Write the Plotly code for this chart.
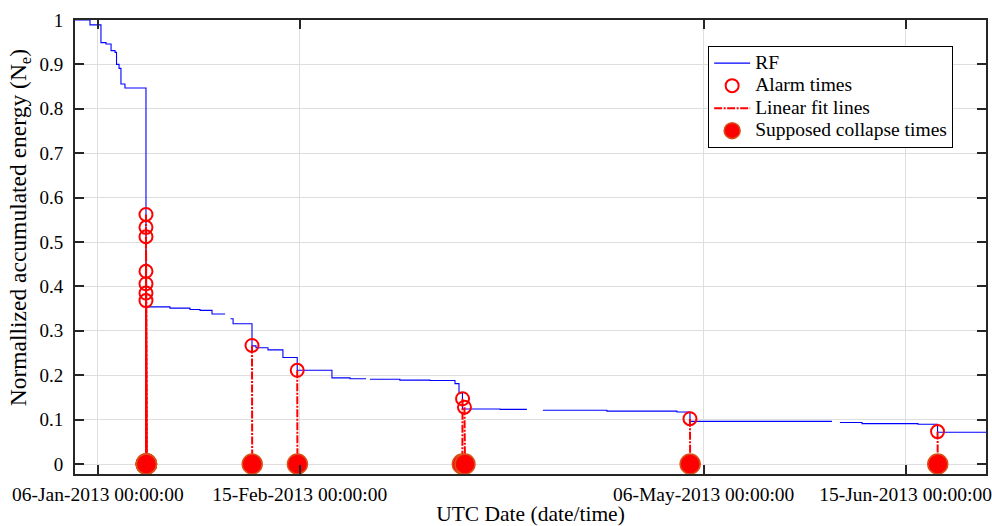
import plotly.graph_objects as go

# Normalized accumulated energy (RF), step series; None marks missing records
rf_time = [
    "2013-01-01 11:35", "2013-01-04 11:00", "2013-01-06 15:00", "2013-01-07 15:00",
    "2013-01-08 15:00", "2013-01-09 10:00", "2013-01-09 17:00", "2013-01-10 05:00",
    "2013-01-10 14:00", "2013-01-11 09:00", "2013-01-15 13:00", "2013-01-20 07:00",
    "2013-01-24 06:00", "2013-01-26 06:00", "2013-01-28 15:00", "2013-01-31 05:00",
    "2013-01-31 05:00", "2013-02-01 07:00", "2013-02-01 19:00", "2013-02-05 13:00",
    "2013-02-06 08:00", "2013-02-08 17:00", "2013-02-11 16:00", "2013-02-14 12:00",
    "2013-02-21 09:00", "2013-02-24 23:00", "2013-02-28 03:00", "2013-02-28 03:00",
    "2013-02-28 22:00", "2013-03-06 20:00", "2013-03-12 19:00", "2013-03-17 18:00",
    "2013-03-18 13:00", "2013-03-19 05:30", "2013-03-26 16:00", "2013-04-01 00:00",
    "2013-04-01 00:00", "2013-04-04 04:00", "2013-04-16 20:00", "2013-04-30 17:00",
    "2013-05-03 07:00", "2013-05-31 10:00", "2013-05-31 10:00", "2013-06-02 00:00",
    "2013-06-06 09:00", "2013-06-17 11:00", "2013-06-21 08:00", "2013-06-30 22:20",
]
rf_value = [
    1.000, 0.989, 0.949, 0.946,
    0.931, 0.927, 0.900, 0.891,
    0.856, 0.847, 0.354, 0.351,
    0.348, 0.346, 0.338, 0.338,
    None, 0.327, 0.316, 0.266,
    0.262, 0.257, 0.240, 0.211,
    0.194, 0.192, 0.192, None,
    0.191, 0.189, 0.188, 0.181,
    0.160, 0.124, 0.123, 0.123,
    None, 0.121, 0.119, 0.117,
    0.096, 0.096, None, 0.0935,
    0.091, 0.0896, 0.0716, 0.0716,
]

# Alarm times with the RF level at each alarm, and the matching collapse time
alarm_time = [
    "2013-01-15 13:00", "2013-01-15 13:00", "2013-01-15 13:00", "2013-01-15 13:00",
    "2013-01-15 13:00", "2013-01-15 13:00", "2013-01-15 13:00", "2013-02-05 13:00",
    "2013-02-14 12:00", "2013-03-19 06:00", "2013-03-19 15:00", "2013-05-03 07:00",
    "2013-06-21 08:00",
]
alarm_value = [
    0.562, 0.533, 0.512, 0.434, 0.406, 0.385, 0.368, 0.267,
    0.211, 0.147, 0.128, 0.102, 0.073,
]
collapse_time = [
    "2013-01-15 15:00", "2013-01-15 15:00", "2013-01-15 15:00", "2013-01-15 15:00",
    "2013-01-15 15:00", "2013-01-15 15:00", "2013-01-15 15:00", "2013-02-05 14:00",
    "2013-02-14 13:00", "2013-03-19 05:00", "2013-03-19 17:30", "2013-05-03 08:00",
    "2013-06-21 09:00",
]
collapse_value = [0.0] * len(collapse_time)

tick_dates = ["2013-01-06", "2013-02-15", "2013-05-06", "2013-06-15"]
tick_labels = [
    "06-Jan-2013 00:00:00", "15-Feb-2013 00:00:00",
    "06-May-2013 00:00:00", "15-Jun-2013 00:00:00",
]
y_ticks = [0, 0.1, 0.2, 0.3, 0.4, 0.5, 0.6, 0.7, 0.8, 0.9, 1]

# Linear fit segments: alarm point -> (collapse time, 0)
fit_x, fit_y = [], []
for at, av, ct, cv in zip(alarm_time, alarm_value, collapse_time, collapse_value):
    fit_x += [at, ct, None]
    fit_y += [av, cv, None]

FONT = "Liberation Serif, Tinos, Times New Roman, DejaVu Serif, serif"
AXIS = "#262626"
GRID = "#dedede"


def legend_name(text):
    # larger glyphs inside a compact legend row
    return f'<span style="font-size:19.5px">{text}</span>'


fig = go.Figure()
fig.add_trace(go.Scatter(
    x=rf_time, y=rf_value, mode="lines", name=legend_name("RF"),
    line=dict(color="#0000ff", width=1.1, shape="hv"), connectgaps=False,
))
fig.add_trace(go.Scatter(
    x=alarm_time, y=alarm_value, mode="markers", name=legend_name("Alarm times"),
    marker=dict(symbol="circle-open", size=13, color="#ff0000", line=dict(width=2)),
))
fig.add_trace(go.Scatter(
    x=fit_x, y=fit_y, mode="lines", name=legend_name("Linear fit lines"),
    line=dict(color="#ff0000", width=2, dash="8px,1.5px,2px,1.5px"),
))
fig.add_trace(go.Scatter(
    x=collapse_time, y=collapse_value, mode="markers",
    name=legend_name("Supposed collapse times"),
    marker=dict(symbol="circle", size=20, color="#ff0000",
                line=dict(color="#d95319", width=1.5)),
))

fig.update_layout(
    width=992, height=526,
    margin=dict(l=75, r=6, t=20, b=52, autoexpand=False),
    paper_bgcolor="white", plot_bgcolor="white",
    font=dict(family=FONT, size=19, color="#000000"),
    showlegend=True,
    legend=dict(
        x=0.695, y=0.943, xanchor="left", yanchor="top",
        bgcolor="white", bordercolor="#000000", borderwidth=1,
        font=dict(family=FONT, size=15, color="#000000"),
        tracegroupgap=0, itemwidth=36,
    ),
    annotations=[dict(
        text="Normallized accumulated energy (N<sub>e</sub>)",
        textangle=-90, showarrow=False,
        xref="paper", yref="paper", x=-0.06, y=0.542,
        xanchor="center", yanchor="middle",
        font=dict(family=FONT, size=23.5, color="#000000"),
    )],
)
fig.update_xaxes(
    type="date", automargin=False,
    range=["2013-01-01 11:35", "2013-06-30 22:20"],
    tickvals=tick_dates, ticktext=tick_labels,
    ticks="inside", ticklen=9, tickwidth=2, tickcolor=AXIS,
    showline=True, linewidth=2, linecolor=AXIS, mirror="ticks",
    showgrid=True, gridcolor=GRID, gridwidth=1, zeroline=False,
    tickfont=dict(family=FONT, size=19.5),
    ticklabelstandoff=2, ticklabeloverflow="allow",
    title=dict(text="UTC Date (date/time)", font=dict(family=FONT, size=21.5), standoff=14),
)
fig.update_yaxes(
    automargin=False,
    range=[-0.0225, 1.0],
    tickvals=y_ticks,
    ticks="inside", ticklen=9, tickwidth=2, tickcolor=AXIS,
    showline=True, linewidth=2, linecolor=AXIS, mirror="ticks",
    showgrid=True, gridcolor=GRID, gridwidth=1, zeroline=False,
    tickfont=dict(family=FONT, size=19),
    ticklabelstandoff=6,
)

fig.write_html("out.html")
